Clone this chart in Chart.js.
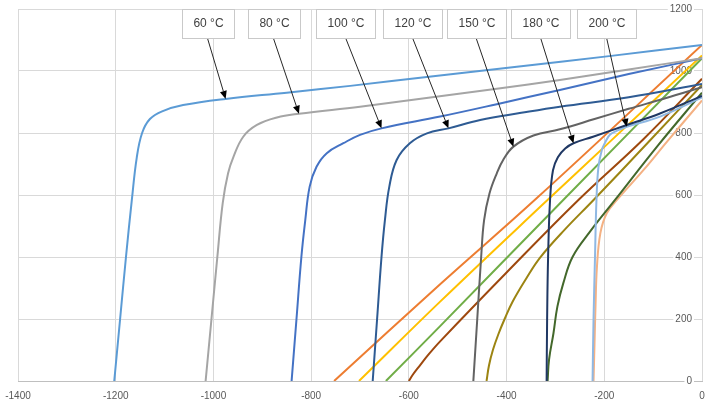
<!DOCTYPE html>
<html>
<head>
<meta charset="utf-8">
<script src="https://cdn.jsdelivr.net/npm/chart.js@4"></script>
<style>
  body { margin: 0; background: #fff; }
  #wrap { width: 711px; height: 406px; position: relative; }
</style>
</head>
<body>
<div id="wrap"><canvas id="chart"></canvas></div>
<script>
// isotherm curves, [x, y] pairs
const t60 = [[-1203, 0], [-1191, 200], [-1179, 400], [-1167, 584], [-1157, 720], [-1146, 800], [-1130, 845], [-1105, 870], [-1062, 890], [-975, 910], [-850, 930], [-720, 952], [-550, 983], [-379, 1014], [-190, 1048], [0, 1084]];
const t80 = [[-1016, 0], [-1004, 200], [-992, 400], [-981, 574], [-970, 670], [-959, 723], [-939, 788], [-911, 826], [-870, 850], [-825, 862], [-700, 885], [-560, 914], [-420, 943], [-291, 971], [-150, 1005], [0, 1041]];
const t100 = [[-840, 0], [-830, 200], [-820, 400], [-812, 519], [-803, 627], [-789, 691], [-768, 735], [-734, 767], [-700, 794], [-656, 815], [-536, 853], [-420, 893], [-291, 939], [-150, 990], [0, 1041]];
const t120 = [[-674, 0], [-665, 200], [-656, 400], [-649, 519], [-640, 627], [-625, 713], [-598, 767], [-563, 799], [-519, 815], [-454, 842], [-370, 865], [-291, 885], [-150, 915], [0, 958]];
const t150 = [[-468, 0], [-460, 200], [-452, 400], [-446, 519], [-435, 605], [-420, 670], [-407, 713], [-386, 756], [-345, 792], [-291, 812], [-220, 845], [-150, 878], [-75, 912], [0, 948]];
const t180 = [[-318, 0], [-317, 200], [-315, 400], [-311, 584], [-305, 680], [-295, 722], [-280, 750], [-263, 767], [-223, 788], [-154, 826], [-86, 863], [0, 920]];
const t200 = [[-224, 0], [-222, 200], [-219, 400], [-216, 584], [-212, 690], [-205, 745], [-198, 770], [-188, 795], [-170, 810], [-154, 820], [-86, 853], [0, 915]];

// the other lines
const orangeLine = [[-753, 0], [-536, 312], [-338, 590], [0, 1084]];
const yellowLine = [[-702, 0], [-536, 256], [-331, 562], [-185, 777], [0, 1050]];
const greenLine = [[-647, 0], [-536, 177], [-284, 584], [0, 1041]];
const brownLine = [[-600, 0], [-592, 20], [-580, 45], [-560, 85], [-536, 128], [-400, 350], [-253, 584], [-120, 780], [0, 975]];
const oliveLine = [[-441, 0], [-436, 50], [-428, 100], [-417, 150], [-404, 200], [-388, 255], [-360, 330], [-331, 399], [-280, 490], [-222, 584], [-110, 770], [0, 955]];
const darkGreenLine = [[-316, 0], [-313, 70], [-304, 154], [-296, 240], [-284, 315], [-265, 400], [-230, 480], [-178, 584], [-90, 760], [0, 930]];
const lightOrangeLine = [[-222, 0], [-220, 120], [-218, 240], [-215, 369], [-208, 477], [-195, 541], [-174, 584], [-120, 680], [-69, 777], [0, 905]];

const labelTexts = ['60 °C', '80 °C', '100 °C', '120 °C', '150 °C', '180 °C', '200 °C'];

const toXY = arr => arr.map(p => ({ x: p[0], y: p[1] }));

const isotherms = [
    { data: t60, color: '#5B9BD5' },
    { data: t80, color: '#A5A5A5' },
    { data: t100, color: '#4472C4' },
    { data: t120, color: '#2E5B93' },
    { data: t150, color: '#636363' },
    { data: t180, color: '#203864' },
    { data: t200, color: '#8FB8E3' }
];
const others = [
    { data: orangeLine, color: '#ED7D31' },
    { data: yellowLine, color: '#FFC000' },
    { data: greenLine, color: '#70AD47' },
    { data: brownLine, color: '#9E480E' },
    { data: oliveLine, color: '#9C8412' },
    { data: darkGreenLine, color: '#43682B' },
    { data: lightOrangeLine, color: '#F4B183' }
];

const datasets = isotherms.concat(others).map(s => ({
    data: toXY(s.data),
    borderColor: s.color,
    borderWidth: 2,
    pointRadius: 0,
    tension: 0.4,
    fill: false
}));

// callout boxes: box centre (x in data units) and which point of the curve the arrow hits
const callouts = [
    { boxX: -1012, tip: 9 },
    { boxX: -877, tip: 9 },
    { boxX: -729, tip: 9 },
    { boxX: -592, tip: 8 },
    { boxX: -462, tip: 7 },
    { boxX: -330, tip: 7 },
    { boxX: -195, tip: 9 }
];

const calloutPlugin = {
    id: 'callouts',
    afterDatasetsDraw(chart) {
        const { ctx, chartArea, scales: { x, y } } = chart;
        ctx.save();
        ctx.font = '12px "Liberation Sans"';
        callouts.forEach((c, i) => {
            const pt = isotherms[i].data[c.tip];
            const tx = x.getPixelForValue(pt[0]);
            const ty = y.getPixelForValue(pt[1]);
            const cx = x.getPixelForValue(c.boxX);
            const w = Math.round(ctx.measureText(labelTexts[i]).width + 22);
            const h = 29;
            const left = Math.round(cx - w / 2) + 0.5;
            const top = chartArea.top + 0.5;

            // arrow
            const sx = cx, sy = top + h;
            const ang = Math.atan2(ty - sy, tx - sx);
            const len = 8, half = 3.5;
            const bx = tx - len * Math.cos(ang), by = ty - len * Math.sin(ang);
            ctx.strokeStyle = '#262626';
            ctx.lineWidth = 1;
            ctx.beginPath();
            ctx.moveTo(sx, sy);
            ctx.lineTo(bx, by);
            ctx.stroke();
            ctx.fillStyle = '#000';
            ctx.beginPath();
            ctx.moveTo(tx, ty);
            ctx.lineTo(bx + half * Math.sin(ang), by - half * Math.cos(ang));
            ctx.lineTo(bx - half * Math.sin(ang), by + half * Math.cos(ang));
            ctx.closePath();
            ctx.fill();

            // box
            ctx.fillStyle = '#fff';
            ctx.fillRect(left, top, w, h);
            ctx.strokeStyle = '#c9c9c9';
            ctx.strokeRect(left, top, w, h);
            ctx.fillStyle = '#404040';
            ctx.textAlign = 'center';
            ctx.textBaseline = 'middle';
            ctx.fillText(labelTexts[i], left + w / 2, top + h / 2);
        });
        ctx.restore();
    }
};

Chart.defaults.font.family = '"Liberation Sans", sans-serif';

new Chart(document.getElementById('chart'), {
    type: 'line',
    data: { datasets },
    options: {
        responsive: true,
        maintainAspectRatio: false,
        animation: false,
        events: [],
        layout: {
            padding: { left: 18, right: 9, top: 9, bottom: 3 }
        },
        plugins: {
            legend: { display: false },
            tooltip: { enabled: false }
        },
        scales: {
            x: {
                type: 'linear',
                min: -1400,
                max: 0,
                ticks: {
                    stepSize: 200,
                    padding: 1,
                    color: '#595959',
                    font: { size: 10 },
                    callback: v => String(v)
                },
                grid: {
                    color: '#d9d9d9',
                    tickLength: 8,
                    tickColor: 'rgba(0,0,0,0)'
                },
                border: { color: '#bfbfbf' }
            },
            y: {
                type: 'linear',
                position: 'right',
                min: 0,
                max: 1200,
                ticks: {
                    stepSize: 200,
                    mirror: true,
                    padding: -10,
                    color: '#595959',
                    font: { size: 10 },
                    showLabelBackdrop: true,
                    backdropColor: '#fff',
                    backdropPadding: { x: 2, y: 0 },
                    callback: v => String(v)
                },
                grid: {
                    color: '#d9d9d9',
                    drawTicks: false
                },
                border: { display: false },
                afterFit: scale => {
                    scale.width = 0;
                    scale.paddingTop = 0;
                    scale.paddingBottom = 0;
                }
            }
        }
    },
    plugins: [calloutPlugin]
});
</script>
</body>
</html>
